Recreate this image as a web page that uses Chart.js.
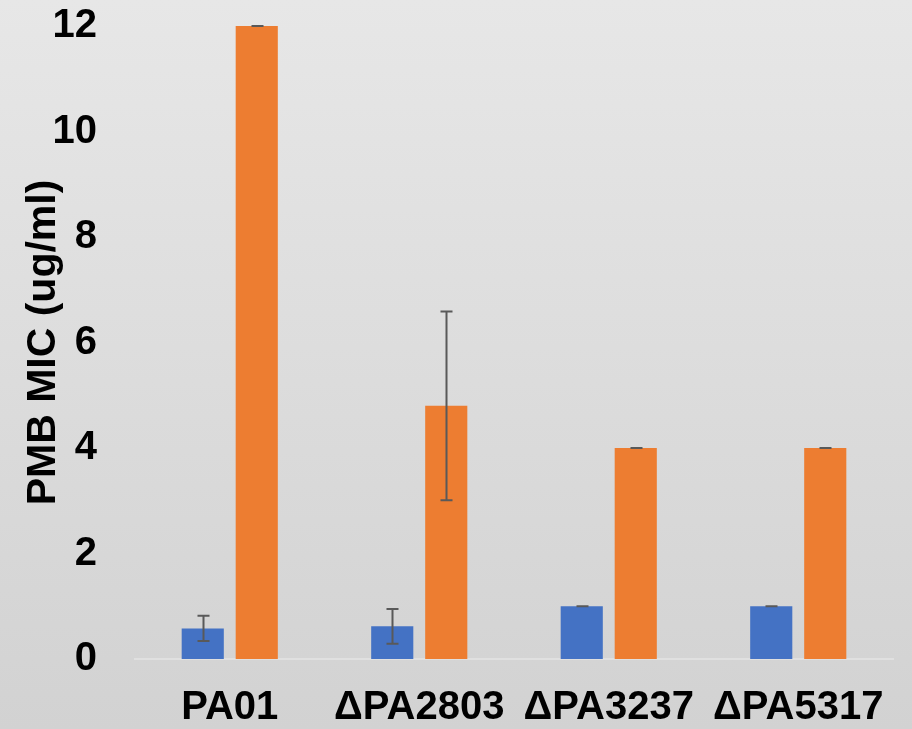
<!DOCTYPE html>
<html>
<head>
<meta charset="utf-8">
<script src="https://cdn.jsdelivr.net/npm/chart.js@4"></script>
<style>
  html, body { margin: 0; padding: 0; }
  #wrap { width: 912px; height: 729px; background: linear-gradient(to bottom, #e7e7e7 0%, #d2d2d2 100%); }
  canvas { display: block; }
</style>
</head>
<body>
<div id="wrap"><canvas id="c" width="912" height="729"></canvas></div>
<script>
const categories = ['PA01', 'ΔPA2803', 'ΔPA3237', 'ΔPA5317'];
const seriesBlue = [0.58, 0.62, 1.0, 1.0];
const errorsBlue = [0.24, 0.33, 0, 0];
const seriesOrange = [12.0, 4.8, 4.0, 4.0];
const errorsOrange = [0, 1.79, 0, 0];
const yTicks = { min: 0, max: 12, step: 2 };
const yTitle = 'PMB MIC (ug/ml)';

const errorList = [errorsBlue, errorsOrange];

const errorBarPlugin = {
  id: 'errorBars',
  afterDatasetsDraw(chart) {
    const ctx = chart.ctx;
    const y = chart.scales.y;
    ctx.save();
    ctx.strokeStyle = '#595959';
    ctx.lineWidth = 2;
    chart.data.datasets.forEach((ds, di) => {
      const meta = chart.getDatasetMeta(di);
      meta.data.forEach((bar, i) => {
        const v = ds.data[i];
        const e = errorList[di][i];
        const x = Math.round(bar.x) + 0.5;
        const yTop = y.getPixelForValue(v + e);
        const yBot = y.getPixelForValue(v - e);
        const cap = 6;
        ctx.beginPath();
        ctx.moveTo(x, yTop);
        ctx.lineTo(x, yBot);
        ctx.moveTo(x - cap, yTop);
        ctx.lineTo(x + cap, yTop);
        ctx.moveTo(x - cap, yBot);
        ctx.lineTo(x + cap, yBot);
        ctx.stroke();
      });
    });
    ctx.restore();
  }
};

Chart.defaults.font.family = '"Liberation Sans", Arial, sans-serif';
Chart.defaults.color = '#000000';

new Chart(document.getElementById('c'), {
  type: 'bar',
  data: {
    labels: categories,
    datasets: [
      { data: seriesBlue, backgroundColor: '#4472C4', categoryPercentage: 0.57, barPercentage: 0.78 },
      { data: seriesOrange, backgroundColor: '#ED7D31', categoryPercentage: 0.57, barPercentage: 0.78 }
    ]
  },
  options: {
    responsive: false,
    animation: false,
    layout: { padding: { top: 26, right: 19, bottom: 0, left: 0 } },
    plugins: { legend: { display: false }, tooltip: { enabled: false } },
    scales: {
      x: {
        grid: { display: false, drawTicks: false },
        border: { display: true, color: '#e0e0e0', width: 2 },
        ticks: { font: { size: 40, weight: 'bold' }, padding: 25, maxRotation: 0, autoSkip: false },
        afterFit(s) { s.height = 70; s.paddingLeft = 0; s.paddingRight = 0; }
      },
      y: {
        min: yTicks.min,
        max: yTicks.max,
        grid: { display: false, drawTicks: false },
        border: { display: false },
        ticks: { stepSize: yTicks.step, font: { size: 40, weight: 'bold' }, padding: 38 },
        title: { display: true, text: yTitle, font: { size: 41, weight: 'bold' }, padding: { top: 19, bottom: 0 } },
        afterFit(s) { s.width = 135; s.paddingTop = 0; s.paddingBottom = 0; }
      }
    }
  },
  plugins: [errorBarPlugin]
});
</script>
</body>
</html>
